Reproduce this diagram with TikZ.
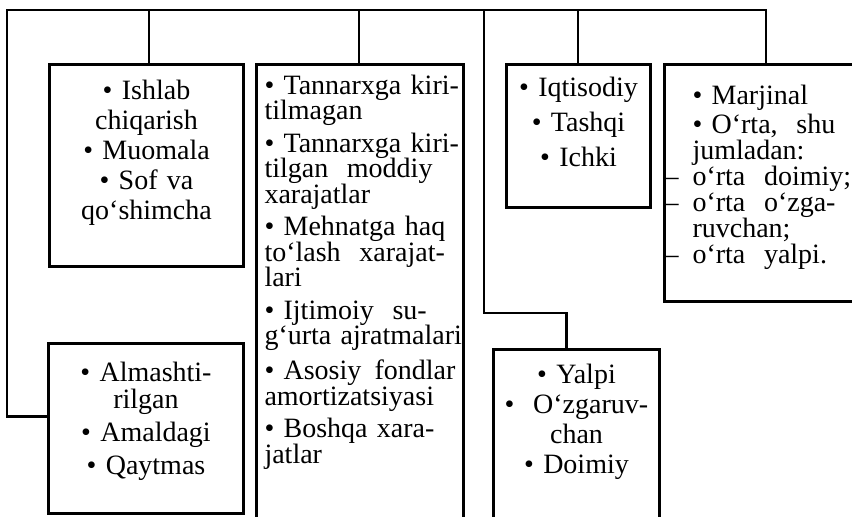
\documentclass[tikz,border=0pt]{standalone}
\usepackage{fontspec}
\setmainfont{Liberation Serif}
\usetikzlibrary{positioning}
\hyphenpenalty=10000
\exhyphenpenalty=10000
\newcommand{\itm}{\textbullet~}
\newcommand{\dsh}{\leavevmode\llap{\textendash\hspace{7pt}}}
\tikzset {
  % box with the kinds listed in it
  kind box/.style = {
    draw = black,
    line width = 1.5pt,
    inner xsep = 0pt,
    inner ysep = 0pt,
    anchor = north west,
    font = \fontsize{14}{13}\selectfont
  },
  % centred list
  mid list/.style = {
    kind box,
    align = center
  },
  % list set from the left edge
  left list/.style = {
    kind box,
    align = left,
    inner xsep = 4pt
  },
  % connecting line
  bus/.style = {
    draw = black,
    line width = 1.1pt
  }
}
\begin{document}
\begin{tikzpicture}[x = 0.5pt, y = -0.5pt]
    \useasboundingbox (0,0) rectangle (852,517);
    \fill[white] (0,0) rectangle (852,517);
    \clip (0,0) rectangle (852,517);

    \node[mid list, text width = 97pt, text height = 17.5pt, text depth = 83.5pt,
      font = \fontsize{14}{15}\selectfont] (ishlab) at (48,63)
      {\itm Ishlab\\ chiqarish\\ \itm Muomala\\ \itm Sof~va\\ qo‘shimcha};
    \node[left list, text width = 95.5pt, text height = 15pt, text depth = 223.5pt,
      font = \fontsize{14}{12.75}\selectfont] (tannarx) at (255,63)
      {\itm Tannarxga~\hfill kiri-\\ tilmagan\\[3.5pt]
       \itm Tannarxga~\hfill kiri-\\ tilgan~~moddiy\\ xarajatlar\\[3.5pt]
       \itm Mehnatga~haq\\ to‘lash~~xarajat-\\ lari\\[3.5pt]
       \itm Ijtimoiy~~su-\\ g‘urta~ajratmalari\\[3.5pt]
       \itm Asosiy~\hfill fondlar\\ amortizatsiyasi\\[3.5pt]
       \itm Boshqa~xara-\\ jatlar};
    \node[mid list, text width = 72pt, text height = 16pt, text depth = 55.5pt,
      font = \fontsize{14}{17.5}\selectfont] (iqt) at (505,63)
      {\itm Iqtisodiy\\ \itm Tashqi\\ \itm Ichki};
    \node[left list, inner xsep = 14pt, text width = 90pt, text height = 20pt,
      text depth = 98.5pt] (marj) at (663,63)
      {\itm Marjinal\\[1.5pt] \itm O‘rta,~~shu\\ jumladan:\\
       \dsh o‘rta~~doimiy;\\ \dsh o‘rta~~o‘zga-\\ ruvchan;\\ \dsh o‘rta~~yalpi.};
    \node[mid list, text width = 97.5pt, text height = 19pt, text depth = 66pt,
      font = \fontsize{14}{13.5}\selectfont] (alm) at (47,342)
      {\itm Almashti-\\ rilgan\\[3pt] \itm Amaldagi\\[3pt] \itm Qaytmas};
    \node[mid list, text width = 83pt, text height = 17pt, text depth = 96pt,
      font = \fontsize{14}{15}\selectfont] (yalpi) at (492,348)
      {\itm Yalpi\\ \itm~O‘zgaruv-\\ chan\\ \itm Doimiy};

    \coordinate (bus-l) at (7,10);
    \coordinate (bus-r) at (766,10);
    \coordinate (j-ishlab) at (149,10);
    \coordinate (j-tannarx) at (359,10);
    \coordinate (j-yalpi) at (484,10);
    \coordinate (j-iqt) at (578,10);

    \draw[bus] (bus-r |- marj.north) -- (bus-r) -- (bus-l) |- ([yshift=6pt]alm.west);
    \draw[bus] (j-ishlab) -- (j-ishlab |- ishlab.north);
    \draw[bus] (j-tannarx) -- (j-tannarx |- tannarx.north);
    \draw[bus] (j-yalpi) -- ++(0,303) -| ([xshift=-5pt]yalpi.north);
    \draw[bus] (j-iqt) -- (j-iqt |- iqt.north);
  \end{tikzpicture}
\end{document}
